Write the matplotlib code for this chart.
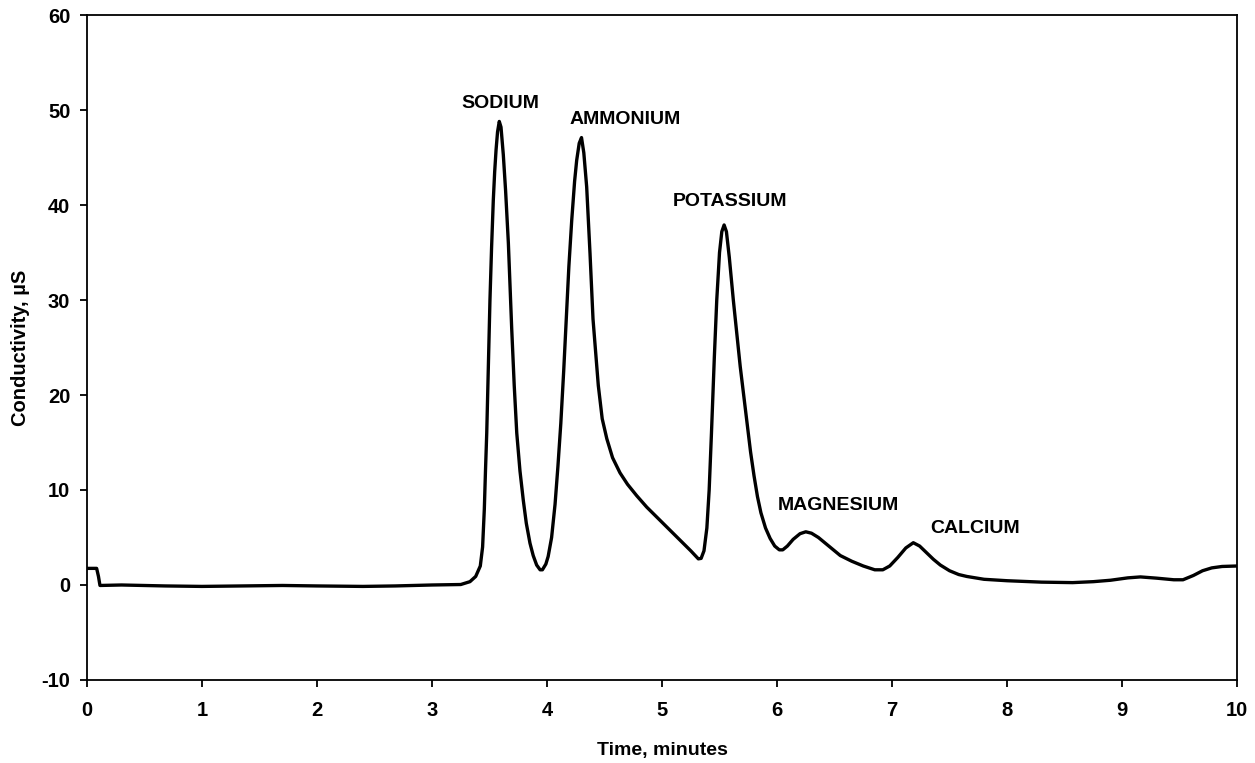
import matplotlib.pyplot as plt

# chromatogram
time_min = [0, 0.084, 0.10, 0.113, 0.3, 0.68, 1.0, 1.36, 1.7, 2.0, 2.4, 2.68, 3.0,
            3.25, 3.33, 3.38, 3.42, 3.44, 3.455, 3.465, 3.476, 3.49, 3.504, 3.518, 3.533,
            3.545, 3.557, 3.57, 3.585, 3.60, 3.61, 3.62, 3.64, 3.664, 3.68, 3.693, 3.715,
            3.737, 3.765, 3.794, 3.82, 3.852, 3.88, 3.91, 3.94, 3.96, 3.99, 4.01, 4.04,
            4.07, 4.095, 4.12, 4.145, 4.17, 4.19, 4.215, 4.24, 4.258, 4.28, 4.30, 4.32,
            4.345, 4.374, 4.40, 4.446, 4.48, 4.52, 4.57, 4.635, 4.70, 4.78, 4.867, 4.95,
            5.05, 5.15, 5.25, 5.316, 5.34, 5.365, 5.39, 5.41, 5.43, 5.455, 5.476, 5.50,
            5.52, 5.54, 5.56, 5.585, 5.62, 5.65, 5.68, 5.71, 5.74, 5.77, 5.80, 5.83, 5.86,
            5.90, 5.94, 5.98, 6.02, 6.05, 6.09, 6.14, 6.2, 6.25, 6.3, 6.36, 6.45, 6.55,
            6.65, 6.75, 6.85, 6.92, 6.98, 7.05, 7.12, 7.185, 7.24, 7.3, 7.36, 7.42, 7.5,
            7.58, 7.65, 7.8, 8.0, 8.3, 8.57, 8.75, 8.9, 9.05, 9.16, 9.3, 9.45, 9.53, 9.62,
            9.7, 9.78, 9.87, 10]
conductivity = [1.75, 1.75, 0.9, -0.05, 0.0, -0.1, -0.15, -0.1, -0.05, -0.1, -0.15, -0.1, 0.0,
                0.05, 0.35, 0.9, 2.0, 4, 8, 12, 16, 23, 30, 35.5, 40.5,
                43.5, 45.8, 47.7, 48.8, 48.2, 46.8, 45.3, 41.5, 36, 31, 27, 21,
                16, 12, 8.9, 6.5, 4.4, 3.1, 2.1, 1.6, 1.6, 2.2, 3.0, 5,
                8.5, 12.5, 17, 22.5, 28.5, 33.5, 38.4, 42.5, 44.7, 46.5, 47.1, 45.5,
                41.9, 34.9, 28, 21, 17.5, 15.4, 13.4, 11.8, 10.6, 9.4, 8.2, 7.2,
                6.0, 4.8, 3.6, 2.75, 2.8, 3.6, 6, 10, 16, 24, 30, 35,
                37.2, 37.9, 37.2, 34.5, 30, 26.5, 23, 20, 17, 14, 11.5, 9.3, 7.6,
                6.0, 4.9, 4.1, 3.7, 3.7, 4.1, 4.8, 5.4, 5.6, 5.45, 5.0, 4.1, 3.1,
                2.5, 2.0, 1.6, 1.6, 2.0, 2.9, 3.9, 4.45, 4.1, 3.4, 2.7, 2.1, 1.5,
                1.1, 0.9, 0.6, 0.45, 0.3, 0.25, 0.35, 0.5, 0.75, 0.85, 0.72, 0.55, 0.55, 1.0,
                1.5, 1.8, 1.95, 2.0]

peak_names = ['SODIUM', 'AMMONIUM', 'POTASSIUM', 'MAGNESIUM', 'CALCIUM']
label_x = [3.59, 4.68, 5.59, 6.53, 7.72]
label_y = [50.7, 49.05, 40.35, 8.33, 5.96]

plt.rcParams['font.family'] = ['Liberation Sans', 'DejaVu Sans']
plt.rcParams['font.weight'] = 'bold'
plt.rcParams['axes.unicode_minus'] = False

fig = plt.figure(figsize=(12.55, 7.63), dpi=100)
ax = fig.add_axes([0.0693, 0.1088, 0.9164, 0.8715])

ax.plot(time_min, conductivity, color='black', linewidth=2.4,
        solid_joinstyle='round', solid_capstyle='round')

for name, x, y in zip(peak_names, label_x, label_y):
    ax.text(x, y, name, ha='center', va='center', fontsize=14, fontweight='bold')

ax.set_xlim(0, 10)
ax.set_ylim(-10, 60)
ax.set_xticks(range(0, 11))
ax.set_yticks(range(-10, 61, 10))
ax.tick_params(direction='out', length=5, width=1.3, labelsize=14.5, pad=7)
ax.tick_params(axis='x', pad=10)
for s in ax.spines.values():
    s.set_linewidth(1.3)

ax.set_xlabel('Time, minutes', fontsize=14, fontweight='bold', labelpad=16)
ax.set_ylabel('Conductivity, µS', fontsize=14.5, fontweight='bold', labelpad=8)

fig.savefig('out.png', dpi=100)
